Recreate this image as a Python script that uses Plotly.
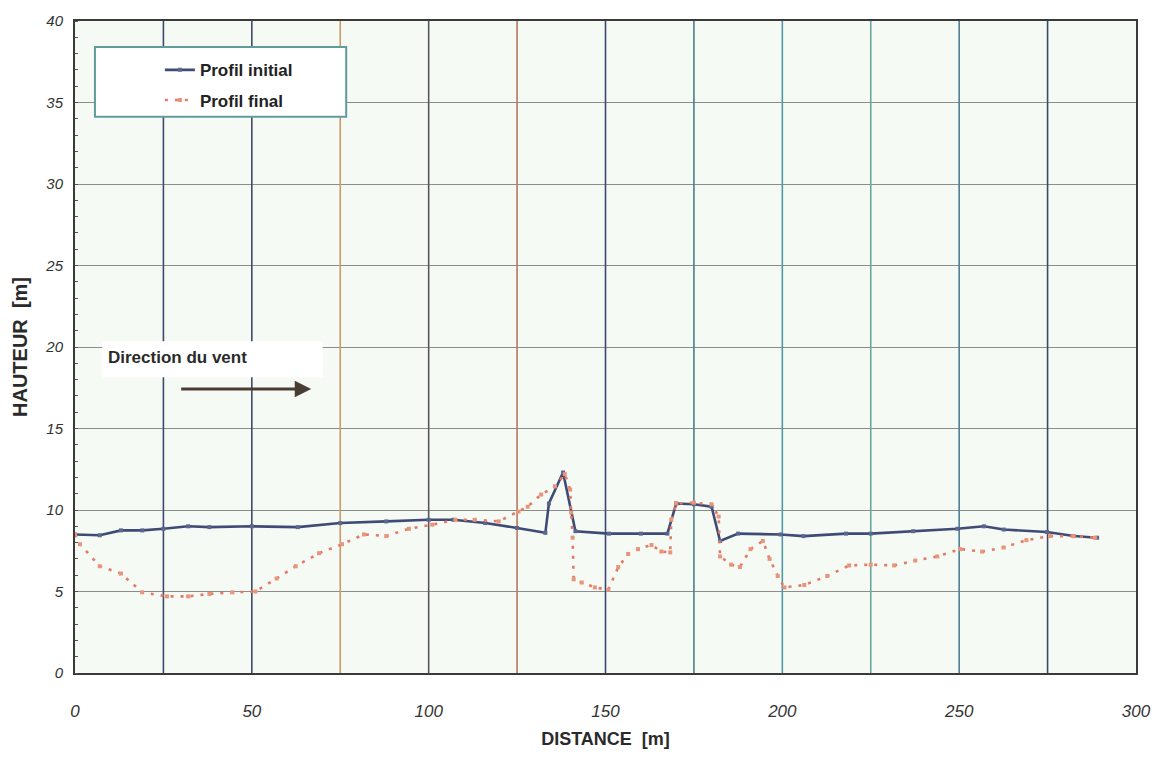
import plotly.graph_objects as go

# Profil initial (distance [m], hauteur [m])
dist_initial = [0, 7, 13, 19, 25, 32, 38, 50, 63, 75, 88, 100, 107, 116, 125, 133,
                134, 138, 141.5, 151, 160, 167.5, 170, 175, 180, 182.4, 187.5,
                199.5, 206, 218, 225, 237, 249.5, 257, 262.6, 274.8, 282.4, 289]
haut_initial = [8.5, 8.45, 8.75, 8.75, 8.85, 9.0, 8.95, 9.0, 8.95, 9.2, 9.3, 9.4, 9.4,
                9.2, 8.9, 8.6, 10.4, 12.3, 8.7, 8.55, 8.55, 8.55, 10.4, 10.35, 10.2,
                8.1, 8.55, 8.5, 8.4, 8.55, 8.55, 8.7, 8.85, 9.0, 8.8, 8.65, 8.4, 8.3]

# Profil final
dist_final = [0, 1.4, 7, 13, 19, 26, 32, 38, 44.5, 51, 57, 62.4, 69, 75.5, 81.7, 88,
              94.4, 101, 107.6, 113, 119.8, 125.4, 128, 131.8, 135.7, 138.5, 140,
              140.3, 140.7, 141, 143.3, 147, 150.8, 153.6, 156.4, 159.2, 163, 165.8,
              168.3, 168.6, 170, 175, 180, 182, 182.4, 185.5, 188, 191, 194.5, 196.4,
              198.7, 200.6, 206.2, 212.7, 218.9, 225, 231.6, 237.6, 243.8, 250.3,
              256.5, 262.6, 269, 275.7, 282.4, 288.4]
haut_final = [8.5, 7.9, 6.55, 6.1, 4.95, 4.7, 4.7, 4.85, 4.95, 5.0, 5.8, 6.55, 7.35,
              7.9, 8.5, 8.4, 8.85, 9.1, 9.4, 9.4, 9.3, 9.9, 10.2, 10.95, 11.45, 12.2,
              11.25, 9.85, 8.3, 5.75, 5.55, 5.25, 5.1, 6.5, 7.3, 7.6, 7.85, 7.45, 7.4,
              9.4, 10.4, 10.45, 10.35, 9.6, 7.15, 6.65, 6.5, 7.6, 8.1, 7.0, 5.95, 5.25,
              5.4, 5.95, 6.6, 6.65, 6.6, 6.9, 7.15, 7.6, 7.45, 7.7, 8.15, 8.4, 8.4, 8.3]

x_ticks = [0, 50, 100, 150, 200, 250, 300]
y_ticks = [0, 5, 10, 15, 20, 25, 30, 35, 40]

# vertical grid every 25 m, each line with its own ink tone
grid_x = [25, 50, 75, 100, 125, 150, 175, 200, 225, 250, 275]
grid_colors = ["#3d4a6e", "#404a66", "#c89a6a", "#55565e", "#b57860", "#3d4870",
               "#4f7d8c", "#4f98a6", "#6aa69e", "#4c7e98", "#3d4a66"]

font_family = "Liberation Sans, Arial, sans-serif"

fig = go.Figure()

fig.add_trace(go.Scatter(
    x=dist_initial, y=haut_initial, name="<b>Profil initial</b>", mode="lines+markers",
    line=dict(color="#3f4b74", width=2.6),
    marker=dict(symbol="square", size=4, color="#5a6890"),
    legendgroup="a",
))
fig.add_trace(go.Scatter(
    x=dist_final, y=haut_final, name="<b>Profil final</b>", mode="lines+markers",
    line=dict(color="#e27a66", width=2.6, dash="3px,7px"),
    marker=dict(symbol="square", size=4, color="#e8957c"),
    legendgroup="b",
))

shapes = []
for gx, gc in zip(grid_x, grid_colors):
    shapes.append(dict(type="line", xref="x", yref="y", x0=gx, x1=gx, y0=0, y1=40,
                       line=dict(color=gc, width=1.6), layer="between"))

# legend frame
shapes.append(dict(type="rect", xref="paper", yref="paper",
                   x0=0.0188, x1=0.2556, y0=0.853, y1=0.960,
                   fillcolor="white", line=dict(color="#5f9c9a", width=2),
                   layer="above"))
# white patch behind the wind label
shapes.append(dict(type="rect", xref="x", yref="y", x0=7.7, x1=70.0, y0=18.15, y1=20.35,
                   fillcolor="white", line=dict(width=0), layer="between"))

fig.update_layout(
    width=1163, height=758,
    margin=dict(l=75, r=24, t=20, b=84),
    paper_bgcolor="white",
    plot_bgcolor="#f6faf5",
    shapes=shapes,
    showlegend=True,
    legend=dict(
        x=0.080, y=0.952, xanchor="left", yanchor="top",
        bgcolor="rgba(0,0,0,0)", borderwidth=0,
        font=dict(family=font_family, size=17, color="#222"),
        traceorder="grouped", tracegroupgap=5,
    ),
    annotations=[
        dict(x=8.8, y=19.35, xref="x", yref="y", text="<b>Direction du vent</b>",
             showarrow=False, xanchor="left", yanchor="middle",
             font=dict(family=font_family, size=17, color="#2a2a2a")),
        dict(x=66.8, y=17.43, ax=29.6, ay=17.43, xref="x", yref="y",
             axref="x", ayref="y", text="", showarrow=True,
             arrowhead=2, arrowsize=1.1, arrowwidth=3, arrowcolor="#4a3d34"),
    ],
)

fig.update_xaxes(
    range=[0, 300], tickvals=x_ticks, ticktext=[str(v) for v in x_ticks],
    showgrid=False, zeroline=False,
    showline=True, linecolor="#3a3a3a", linewidth=2, mirror=True,
    ticks="", ticklabelstandoff=22,
    tickfont=dict(family=font_family, size=17, color="#333", style="italic"),
    title=dict(text="<b>DISTANCE  [m]</b>", standoff=12,
               font=dict(family=font_family, size=18, color="#2a2a2a")),
)
fig.update_yaxes(
    range=[0, 40], tickvals=y_ticks, ticktext=[str(v) for v in y_ticks],
    showgrid=True, gridcolor="#8c8c8c", gridwidth=1.4, zeroline=False,
    showline=True, linecolor="#3a3a3a", linewidth=2, mirror=True,
    ticks="", ticklabelstandoff=7,
    minor=dict(ticks="inside", ticklen=3, tickcolor="#555", dtick=1, showgrid=False),
    tickfont=dict(family=font_family, size=15, color="#333", style="italic"),
    title=dict(text="<b>HAUTEUR  [m]</b>", standoff=12,
               font=dict(family=font_family, size=20, color="#2a2a2a")),
)

fig.write_html("out.html")
